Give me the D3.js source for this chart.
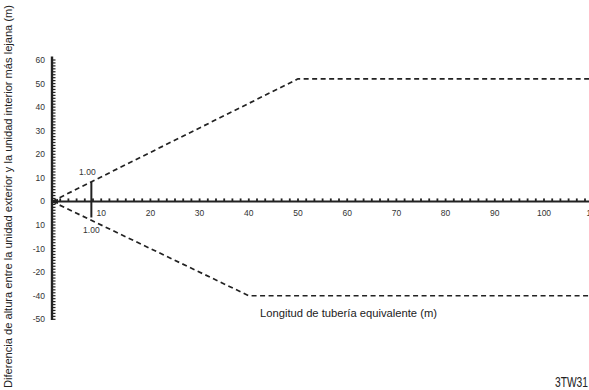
<!DOCTYPE html>
<html>
<head>
<meta charset="utf-8">
<script src="https://cdn.jsdelivr.net/npm/d3@7"></script>
<style>
  html, body { margin: 0; padding: 0; background: #fff; }
  svg { display: block; }
</style>
</head>
<body>
<svg id="chart" width="589" height="390"></svg>
<script>
// Height-difference limits against equivalent pipe length
const upperLimit = [[0, 0], [50, 52], [120, 52]];
const lowerLimit = [[0, 0], [40, -40], [120, -40]];

// Limit bar at short pipe lengths, with its factor labels
const barLength = 8;
const barLabels = ["1.00", "1.00"];

const xTickValues = [10, 20, 30, 40, 50, 60, 70, 80, 90, 100, 110];
const yTickValues = [60, 50, 40, 30, 20, 10, 0, -10, -20, -30, -40, -50];
const yTickLabels = ["60", "50", "40", "30", "20", "10", "0", "10", "-10", "-20", "-40", "-50"];

const xTitle = "Longitud de tubería equivalente (m)";
const yTitle = "Diferencia de altura entre la unidad exterior y la unidad interior más lejana (m)";
const codeLabel = "3TW31";

const svg = d3.select("#chart");
const W = 589, H = 390;

const x = d3.scaleLinear().domain([0, 100]).range([52, 544]);
const y = d3.scaleLinear().domain([-50, 60]).range([319.3, 60]);

const ink = "#222";
const labelInk = "#333";
const font = "'Liberation Sans', Arial, sans-serif";
const narrow = "'Liberation Sans Narrow', 'Liberation Sans', Arial, sans-serif";

// Y axis: heavy spine with ruler ticks
svg.append("line")
  .attr("x1", x(0)).attr("x2", x(0))
  .attr("y1", y(61.5)).attr("y2", y(-50.3))
  .attr("stroke", ink).attr("stroke-width", 2.4);
svg.append("g").selectAll("line")
  .data(d3.range(-50, 61.01, 1.25))
  .join("line")
  .attr("x1", x(0)).attr("x2", x(0) + 3.5)
  .attr("y1", d => y(d)).attr("y2", d => y(d))
  .attr("stroke", ink).attr("stroke-width", 1.2);

svg.append("g").selectAll("text")
  .data(yTickValues)
  .join("text")
  .attr("x", 45).attr("y", d => y(d))
  .attr("dy", "0.35em")
  .attr("text-anchor", "end")
  .attr("font-family", font).attr("font-size", 8.5)
  .attr("fill", labelInk)
  .text((d, i) => yTickLabels[i]);

// X axis: baseline with small dotted ticks on top
svg.append("line")
  .attr("x1", x(0)).attr("x2", W)
  .attr("y1", y(0)).attr("y2", y(0))
  .attr("stroke", ink).attr("stroke-width", 2);
svg.append("g").selectAll("rect")
  .data(d3.range(10 / 6, 112, 10 / 6))
  .join("rect")
  .attr("x", d => x(d) - 0.9).attr("y", y(0) - 3)
  .attr("width", 1.8).attr("height", 3)
  .attr("fill", ink);

// Arrowhead at the origin
svg.append("path")
  .attr("d", `M${x(0) + 1},${y(0)} l5,-2.6 l0,5.2 z`)
  .attr("fill", ink);

svg.append("g").selectAll("text")
  .data(xTickValues)
  .join("text")
  .attr("x", d => x(d)).attr("y", y(0) + 14.5)
  .attr("text-anchor", "middle")
  .attr("font-family", font).attr("font-size", 8.5)
  .attr("fill", labelInk)
  .text(d => d);

// Dashed limit lines
const line = d3.line().x(d => x(d[0])).y(d => y(d[1]));
[upperLimit, lowerLimit].forEach(series => {
  svg.append("path")
    .datum(series)
    .attr("d", line)
    .attr("fill", "none")
    .attr("stroke", ink)
    .attr("stroke-width", 1.7)
    .attr("stroke-dasharray", "5,3.5");
});

// Limit bar between the two lines
const interp = (series, v) => {
  const [a, b] = series;
  return a[1] + (b[1] - a[1]) * (v - a[0]) / (b[0] - a[0]);
};
const barTop = interp(upperLimit, barLength);
const barBottom = interp(lowerLimit, barLength) + 1.2;
svg.append("line")
  .attr("x1", x(barLength)).attr("x2", x(barLength))
  .attr("y1", y(barTop)).attr("y2", y(barBottom))
  .attr("stroke", ink).attr("stroke-width", 2);
svg.append("text")
  .attr("x", x(barLength) - 4).attr("y", y(barTop) - 7)
  .attr("text-anchor", "middle")
  .attr("font-family", font).attr("font-size", 8.5)
  .attr("fill", labelInk)
  .text(barLabels[0]);
svg.append("text")
  .attr("x", x(barLength)).attr("y", y(barBottom) + 16)
  .attr("text-anchor", "middle")
  .attr("font-family", font).attr("font-size", 8.5)
  .attr("fill", labelInk)
  .text(barLabels[1]);

// Titles
svg.append("text")
  .attr("x", 260).attr("y", 317)
  .attr("font-family", narrow)
  .attr("font-size", 11)
  .attr("textLength", 177).attr("lengthAdjust", "spacingAndGlyphs")
  .attr("fill", ink)
  .text(xTitle);

svg.append("text")
  .attr("transform", "translate(12,388) rotate(-90)")
  .attr("font-family", narrow)
  .attr("font-size", 10.5)
  .attr("textLength", 383).attr("lengthAdjust", "spacingAndGlyphs")
  .attr("fill", ink)
  .text(yTitle);

svg.append("text")
  .attr("x", 555).attr("y", 387)
  .attr("font-family", font)
  .attr("font-size", 15)
  .attr("textLength", 33).attr("lengthAdjust", "spacingAndGlyphs")
  .attr("fill", ink)
  .text(codeLabel);
</script>
</body>
</html>
